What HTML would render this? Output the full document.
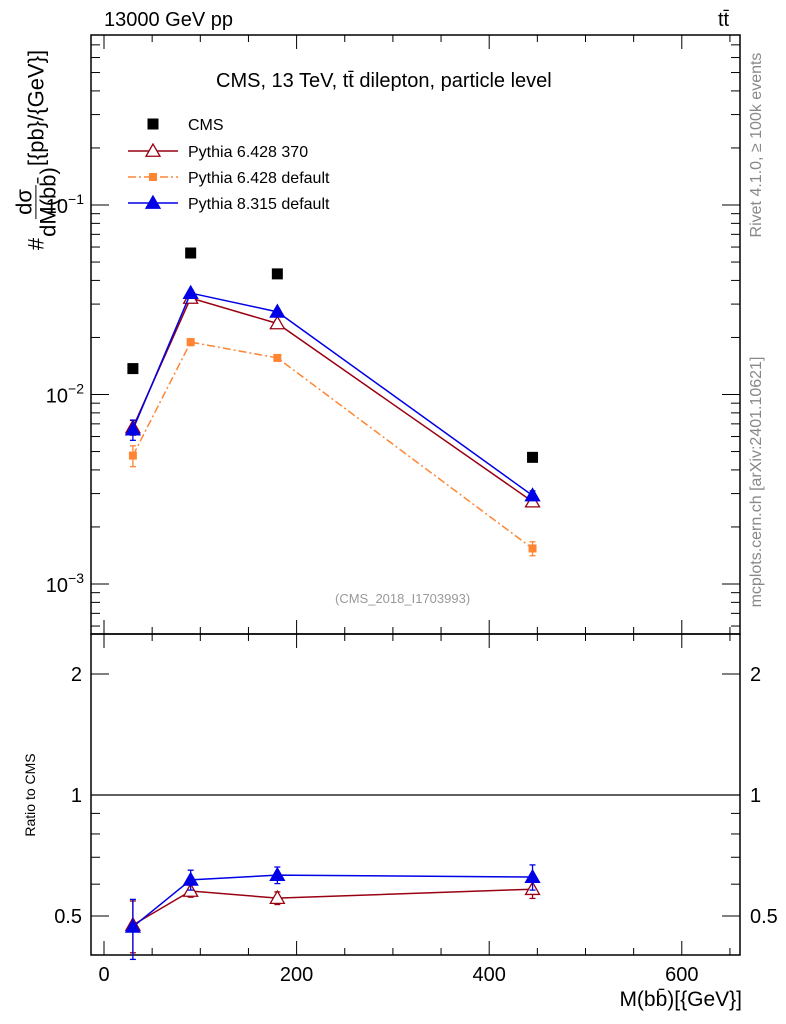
<!DOCTYPE html>
<html><head><meta charset="utf-8"><style>
html,body{margin:0;padding:0;background:#fff;}
svg{display:block;font-family:"Liberation Sans",sans-serif;}
</style></head><body>
<svg id="c" width="786" height="1024" xmlns="http://www.w3.org/2000/svg"></svg>
<script>
const xs = [30, 90, 180, 445];
const cms = [0.0137, 0.0558, 0.0433, 0.00466];
const p6370 = [0.0067, 0.0323, 0.0237, 0.00272];
const p6def = [0.00476, 0.0189, 0.0156, 0.00154];
const p8 = [0.00653, 0.0343, 0.0273, 0.00293];
const p6370Err = [0.0006, 0.0012, 0.0009, 0.00015];
const p6defErr = [0.0006, 0.0008, 0.0006, 0.00013];
const p8Err = [0.0008, 0.0012, 0.0009, 0.00017];
const r6370 = [0.475, 0.577, 0.554, 0.583];
const r8 = [0.47, 0.615, 0.632, 0.625];
const r6370Err = [0.07, 0.02, 0.02, 0.03];
const r8Err = [0.08, 0.035, 0.03, 0.045];
const xTicks = [0, 200, 400, 600];
const ratioTicks = [0.5, 1, 2];

const L=91, R=740, T=35, MB=634, B=955;
const X = v => 104 + (v - 0) * 0.963;
const Y = v => 205 - (Math.log10(v) + 1) * 189.5;
const YR = v => 795 - Math.log10(v) * 402;
const svg = document.getElementById('c');
const NS = 'http://www.w3.org/2000/svg';
function mk(tag, at, txt){const e=document.createElementNS(NS,tag);for(const k in at)e.setAttribute(k,at[k]);if(txt!==undefined)e.textContent=txt;svg.appendChild(e);return e;}

let f1=mk('rect',{x:L,y:T,width:R-L,height:MB-T,fill:'none',stroke:'#000','stroke-width':1.5});


let f2=mk('rect',{x:L,y:MB,width:R-L,height:B-MB,fill:'none',stroke:'#000','stroke-width':1.5});



for(let v=0;v<=650;v+=50){
  const major = v%200===0, len = major?14:7, px=X(v);
  [[T,1],[MB,-1],[MB,1],[B,-1]].forEach(([y0,d])=>{
    const t=mk('line',{x1:px,x2:px,y1:y0,y2:y0+d*len,stroke:'#000','stroke-width':1});
    
    
  });
}
xTicks.forEach(v=>{
  const t=mk('text',{x:X(v),y:981,'font-size':20,'text-anchor':'middle'},String(v));
  
  
});

for(let d=-4; d<=0; d++){
  for(let m=1;m<10;m++){
    const v=m*Math.pow(10,d), py=Y(v);
    if(py<T||py>MB) continue;
    const len = m===1?18:9;
    [[L,1],[R,-1]].forEach(([x0,s])=>{
      const t=mk('line',{x1:x0,x2:x0+s*len,y1:py,y2:py,stroke:'#000','stroke-width':1});
      
      
    });
  }
}
[[-1,'−1'],[-2,'−2'],[-3,'−3']].forEach(([d,s])=>{
  const t=mk('text',{x:84,y:Y(Math.pow(10,d))+8,'font-size':20,'text-anchor':'end'});
  t.innerHTML='10<tspan dy="-9" font-size="14">'+s+'</tspan>';
  
  
});

const rt=[0.4,0.5,0.6,0.7,0.8,0.9,1,2];
rt.forEach(v=>{
  const py=YR(v);
  if(py<MB||py>B) return;
  const major=(v===0.5||v===1||v===2), len=major?18:9;
  [[L,1],[R,-1]].forEach(([x0,s])=>{
    const t=mk('line',{x1:x0,x2:x0+s*len,y1:py,y2:py,stroke:'#000','stroke-width':1});
    
    
  });
});
ratioTicks.forEach(v=>{
  [[82,'end'],[750,'start']].forEach(([x,a])=>{
    const t=mk('text',{x:x,y:YR(v)+7,'font-size':20,'text-anchor':a},String(v));
    
    
  });
});
let one=mk('line',{x1:L,x2:R,y1:YR(1),y2:YR(1),stroke:'#000','stroke-width':1.3});



function tri(x,y,col,fill,name){const s=7;const p=mk('polygon',{points:`${x},${y-s} ${x-s},${y+s*0.75} ${x+s},${y+s*0.75}`,fill:fill?col:'#fff',stroke:col,'stroke-width':1.3});}
function sq(x,y,s,col,name){const p=mk('rect',{x:x-s/2,y:y-s/2,width:s,height:s,fill:col});}
function err(x,y1,y2,col,name){const l=mk('line',{x1:x,x2:x,y1:y1,y2:y2,stroke:col,'stroke-width':1.3});
  [y1,y2].forEach(y=>{const c=mk('line',{x1:x-3,x2:x+3,y1:y,y2:y,stroke:col,'stroke-width':1.3});});}
function line(vals,yf,col,dash,name){const pts=vals.map((v,i)=>X(xs[i])+','+yf(v)).join(' ');const p=mk('polyline',{points:pts,fill:'none',stroke:col,'stroke-width':1.5,'stroke-dasharray':dash||'none'});}

const ORG='#ff8533', RED='#990011', BLU='#0000e6';
line(p6def,Y,ORG,'8,3,2,3','pythia6-default-line');
p6def.forEach((v,i)=>{err(X(xs[i]),Y(v-p6defErr[i]),Y(v+p6defErr[i]),ORG,'pythia6-default-error');sq(X(xs[i]),Y(v),8,ORG,'pythia6-default-point');});
line(p6370,Y,RED,null,'pythia6-370-line');
p6370.forEach((v,i)=>{err(X(xs[i]),Y(v-p6370Err[i]),Y(v+p6370Err[i]),RED,'pythia6-370-error');tri(X(xs[i]),Y(v),RED,false,'pythia6-370-point');});
line(p8,Y,BLU,null,'pythia8-line');
p8.forEach((v,i)=>{err(X(xs[i]),Y(v-p8Err[i]),Y(v+p8Err[i]),BLU,'pythia8-error');tri(X(xs[i]),Y(v),BLU,true,'pythia8-point');});
cms.forEach((v,i)=>sq(X(xs[i]),Y(v),11,'#000','cms-point'));

line(r6370,YR,RED,null,'ratio-pythia6-370-line');
r6370.forEach((v,i)=>{err(X(xs[i]),YR(v-r6370Err[i]),YR(v+r6370Err[i]),RED,'ratio-pythia6-370-error');tri(X(xs[i]),YR(v),RED,false,'ratio-pythia6-370-point');});
line(r8,YR,BLU,null,'ratio-pythia8-line');
r8.forEach((v,i)=>{err(X(xs[i]),YR(v-r8Err[i]),YR(v+r8Err[i]),BLU,'ratio-pythia8-error');tri(X(xs[i]),YR(v),BLU,true,'ratio-pythia8-point');});

const legY=[124,151,177,203];
sq(153,legY[0],11,'#000','legend-cms-marker');
let lg=mk('line',{x1:128,x2:178,y1:legY[1],y2:legY[1],stroke:RED,'stroke-width':1.5});
tri(153,legY[1],RED,false,'legend-p6370-marker');
lg=mk('line',{x1:128,x2:178,y1:legY[2],y2:legY[2],stroke:ORG,'stroke-width':1.5,'stroke-dasharray':'8,3,2,3'});
sq(153,legY[2],8,ORG,'legend-p6def-marker');
lg=mk('line',{x1:128,x2:178,y1:legY[3],y2:legY[3],stroke:BLU,'stroke-width':1.5});
tri(153,legY[3],BLU,true,'legend-p8-marker');
['CMS','Pythia 6.428 370','Pythia 6.428 default','Pythia 8.315 default'].forEach((s,i)=>{
  const t=mk('text',{x:188,y:legY[i]+6,'font-size':16},s);
  
  
});
</script>
<div style="position:absolute;left:0;top:0;width:786px;height:1024px;pointer-events:none;font-family:'Liberation Sans',sans-serif;">
<div style="position:absolute;left:104px;top:9px;font-size:20px;">13000 GeV pp</div>
<div style="position:absolute;left:718px;top:9px;font-size:20px;">tt̄</div>
<div style="position:absolute;left:216px;top:70px;font-size:20px;">CMS, 13 TeV, tt̄ dilepton, particle level</div>
<div style="position:absolute;left:335px;top:591px;font-size:13px;color:#999;">(CMS_2018_I1703993)</div>
<div style="position:absolute;right:44px;top:988px;font-size:21px;">M(bb̄)[{GeV}]</div>
<div style="position:absolute;left:30px;top:795px;font-size:14px;transform:translate(-50%,-50%) rotate(-90deg);white-space:nowrap;">Ratio to CMS</div>
<div style="position:absolute;left:36px;top:150px;font-size:22px;transform:translate(-50%,-50%) rotate(-90deg);white-space:nowrap;display:flex;align-items:center;">#<span style="display:inline-flex;flex-direction:column;align-items:center;margin:0 1px;line-height:1.05;"><span style="border-bottom:1.5px solid #000;padding:0 4px;">dσ</span><span>dM(bb̄)</span></span>[{pb}/{GeV}]</div>
<div style="position:absolute;left:757px;top:145px;font-size:16px;color:#888;transform:translate(-50%,-50%) rotate(-90deg);white-space:nowrap;">Rivet 4.1.0, ≥ 100k events</div>
<div style="position:absolute;left:757px;top:482px;font-size:16px;color:#888;transform:translate(-50%,-50%) rotate(-90deg);white-space:nowrap;">mcplots.cern.ch [arXiv:2401.10621]</div>
</div>
</body></html>
